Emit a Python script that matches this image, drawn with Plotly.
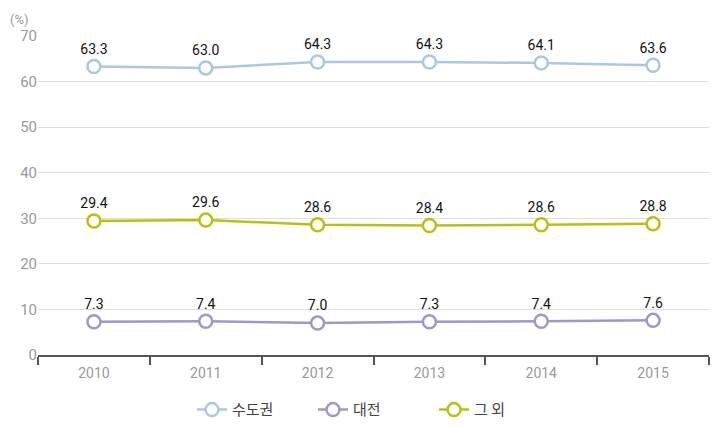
import plotly.graph_objects as go

years = ['2010', '2011', '2012', '2013', '2014', '2015']
capital = [63.3, 63.0, 64.3, 64.3, 64.1, 63.6]
daejeon = [7.3, 7.4, 7.0, 7.3, 7.4, 7.6]
others = [29.4, 29.6, 28.6, 28.4, 28.6, 28.8]

series = [
    ('수도권', capital, '#a9c8e2'),
    ('대전', daejeon, '#a196c6'),
    ('그 외', others, '#b9c010'),
]

fig = go.Figure()
for name, vals, colour in series:
    fig.add_trace(go.Scatter(
        x=years, y=vals, name=name,
        mode='lines+markers+text',
        line=dict(color=colour, width=2.5),
        marker=dict(size=13, color='white', line=dict(color=colour, width=2.5)),
        text=['%.1f' % v for v in vals],
        textposition='top center',
        textfont=dict(family='Roboto', size=14, color='#111111'),
        cliponaxis=False,
    ))

# page body has an 8px margin, so the figure is a bit smaller than the window
fig.update_layout(
    width=713, height=419,
    margin=dict(l=30, r=12, t=28, b=72, autoexpand=False),
    paper_bgcolor='white',
    plot_bgcolor='white',
    font=dict(family='Roboto', size=14, color='#999999'),
    showlegend=True,
    legend=dict(
        orientation='h', x=0.5, xanchor='center', y=-0.172, yanchor='middle',
        font=dict(family='Noto Sans CJK KR', size=15, color='#444444'),
        itemwidth=30, entrywidth=76,
    ),
    annotations=[dict(
        text='(%)', xref='paper', yref='paper', x=-0.027, y=1.052,
        xanchor='center', yanchor='middle', showarrow=False,
        font=dict(family='Roboto', size=13, color='#999999'),
    )],
)
fig.update_xaxes(
    type='category', tickson='boundaries', ticks='outside', ticklen=8,
    tickwidth=2, tickcolor='#555555', showline=True, linecolor='#555555',
    linewidth=2, showgrid=False, range=[-0.5, 5.5], automargin=False,
    ticklabelstandoff=4, tickfont=dict(color='#999999', size=14),
)
fig.update_yaxes(
    range=[0, 70], dtick=10, showgrid=True, gridcolor='#dddddd', gridwidth=1,
    zeroline=False, ticks='', automargin=False,
    tickfont=dict(color='#999999', size=15),
)

fig.write_html('out.html')
